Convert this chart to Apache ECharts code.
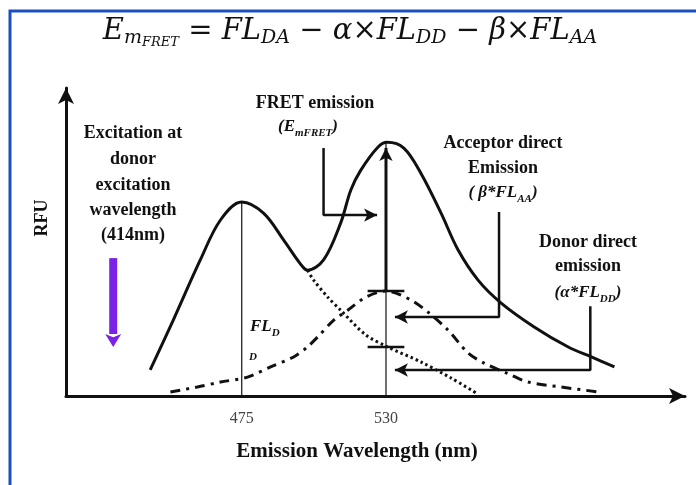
<!DOCTYPE html>
<html><head><meta charset="utf-8">
<script src="https://cdn.jsdelivr.net/npm/echarts@6/dist/echarts.min.js"></script>
<style>html,body{margin:0;padding:0;background:#fff}#c{width:696px;height:485px}</style>
</head><body><div id="c"></div>
<script>
// ---- data (wavelength nm, RFU) ----
const xRange = [408, 644];
const yRange = [0, 99.4];
const xTickValues = [475, 530];
const totalCurve = [[440.1,8.4],[448.9,24.5],[459.2,43.9],[466.9,56.8],[475,62.6],[483.3,59.0],[491,50.3],[497.5,42.5],[500.1,40.6],[506.2,43.9],[512.7,55.8],[516.6,66.5],[520.4,72.9],[526.9,80.3],[530.5,81.9],[536.8,80.0],[543.3,71.9],[551,59.0],[557.5,47.1],[565.1,37.4],[573.9,30.0],[586.5,22.3],[599.5,15.8],[608.3,12.6],[617.1,9.4]];
const donorCurve = [[500.1,40.6],[502.4,37.4],[507.8,31.9],[512.7,27.7],[522.3,19.7],[530.7,15.8],[543.3,11.0],[554.8,5.8],[564.3,1.0]];
const acceptorCurve = [[447.8,1.3],[458.1,2.9],[466.9,4.5],[477.2,6.1],[486,9.4],[494.8,12.6],[500,15.8],[503.9,19.0],[510.1,24.5],[515.4,27.7],[522.3,31.9],[530,33.9],[539.5,31.0],[546.4,26.8],[553.6,21.3],[561.3,13.9],[567.4,10.6],[576,7.4],[584.2,4.5],[596.8,2.9],[611,1.3]];
const guide475 = [[475,0],[475,62.6]];
const guide530 = [[530,0],[530,81.9]];
const tickAcceptor = [[523,33.9],[537,33.9]];
const tickDonor = [[523,15.8],[537,15.8]];
const peakArrow = [[530,33.9],[530,80.0]];
const fretArrow = [[506.2,80],[506.2,58.4],[526.6,58.4]];
const acceptorArrow = [[573.1,59.4],[573.1,25.5],[533.4,25.5]];
const donorArrow = [[607.9,29.0],[607.9,8.4],[533.4,8.4]];
const excitationShaft = [[426,44.5],[426,20]];
const excitationHead = [[426,20],[426,15.8]];

const chart = echarts.init(document.getElementById('c'));
const serif = 'Liberation Serif';
const mathFont = 'DejaVu Serif';

function plain(data, w, type, color) {
  return { type:'line', data:data, symbol:'none', smooth:false, silent:true, animation:false,
    lineStyle:{ color: color||'#111', width:w, type:type||'solid', cap:'butt' }, z:3 };
}
function arrowLine(data, w, rot, size, color) {
  const d = data.map((p,i)=> i===data.length-1 ? {value:p, symbol:'arrow', symbolSize:size, symbolRotate:rot} : {value:p, symbol:'none'});
  return { type:'line', data:d, showSymbol:true, symbol:'none', silent:true, animation:false,
    lineStyle:{ color: color||'#111', width:w }, itemStyle:{ color: color||'#111', opacity:1 }, z:5 };
}

function txt(text, x, y, size, opts) {
  opts = opts || {};
  return { type:'text', x:x, y:y, rotation: opts.rotation||0, z:10, silent:true,
    style:{ text:text, fill:opts.fill||'#111', font:(opts.style||'bold')+' '+size+'px "'+(opts.family||serif)+'"',
      textAlign:opts.align||'center', textVerticalAlign:opts.va||'middle', rich:opts.rich } };
}

const eqRich = {
  e:{ fontFamily:mathFont, fontStyle:'italic', fontSize:29, lineHeight:32, verticalAlign:'top', fill:'#111' },
  m:{ fontFamily:mathFont, fontStyle:'italic', fontSize:19, lineHeight:21, padding:[12,0,0,0], verticalAlign:'top', fill:'#111' },
  s:{ fontFamily:mathFont, fontStyle:'italic', fontSize:13, lineHeight:14, padding:[19,0,0,0], verticalAlign:'top', fill:'#111' },
  d:{ fontFamily:mathFont, fontStyle:'italic', fontSize:19, lineHeight:21, padding:[12,0,0,0], verticalAlign:'top', fill:'#111' }
};
const lblRich = {
  p:{ fontFamily:serif, fontWeight:'bold', fontStyle:'italic', fontSize:17, lineHeight:20, verticalAlign:'top', fill:'#111' },
  s:{ fontFamily:serif, fontWeight:'bold', fontStyle:'italic', fontSize:11, lineHeight:12, padding:[10,0,0,0], verticalAlign:'top', fill:'#111' }
};

chart.setOption({
  backgroundColor:'#fff',
  animation:false,
  grid:{ left:66, right:11, top:88, bottom:89 },
  xAxis:{ type:'value', min:xRange[0], max:xRange[1],
    axisLine:{ show:true, symbol:['none','arrow'], symbolSize:[12,16], lineStyle:{ color:'#111', width:3 } },
    axisTick:{ show:false }, splitLine:{ show:false },
    axisLabel:{ customValues:xTickValues, margin:15, fontFamily:serif, fontSize:16, color:'#444' } },
  yAxis:{ type:'value', min:yRange[0], max:yRange[1],
    axisLine:{ show:true, symbol:['none','arrow'], symbolSize:[12,16], lineStyle:{ color:'#111', width:3 } },
    axisTick:{ show:false }, splitLine:{ show:false }, axisLabel:{ show:false } },
  series:[
    plain(guide475, 1.2),
    plain(guide530, 1.2),
    Object.assign(plain(totalCurve, 3), { smooth:0.35 }),
    Object.assign(plain(donorCurve, 3, [2.5,3]), { smooth:0.3 }),
    Object.assign(plain(acceptorCurve, 3, [10,6,3,6]), { smooth:0.3 }),
    plain(tickAcceptor, 2.5),
    plain(tickDonor, 2.5),
    arrowLine(peakArrow, 3, 0, [10,13]),
    arrowLine(fretArrow, 2.5, -90, [10,13]),
    arrowLine(acceptorArrow, 2.5, 90, [10,13]),
    arrowLine(donorArrow, 2.5, 90, [10,13]),
    plain(excitationShaft, 8, 'solid', '#7a22e6'),
    arrowLine(excitationHead, 0, 180, [12,13], '#7a22e6')
  ],
  graphic:[
    { type:'polyline', silent:true, z:0, shape:{ points:[[10,485],[10,11],[696,11]] }, style:{ stroke:'#1a4fbf', lineWidth:3, fill:null } },
    txt('{e|E}{m|m}{s|FRET}{e| = FL}{d|DA}{e| − α×FL}{d|DD}{e| − β×FL}{d|AA}', 350, 17, 29, { style:'italic', va:'top', family:mathFont, rich:eqRich }),
    txt('RFU', 42, 218, 18, { rotation:Math.PI/2 }),
    txt('Excitation at', 133, 133, 18),
    txt('donor', 133, 159, 18),
    txt('excitation', 133, 185, 18),
    txt('wavelength', 133, 210, 18),
    txt('(414nm)', 133, 235, 18),
    txt('FRET emission', 315, 103, 18),
    txt('{p|(E}{s|mFRET}{p|)}', 308, 118, 17, { va:'top', rich:lblRich }),
    txt('Acceptor direct', 503, 143, 18),
    txt('Emission', 503, 168, 18),
    txt('{p|( β*FL}{s|AA}{p|)}', 503, 184, 17, { va:'top', rich:lblRich }),
    txt('Donor direct', 588, 242, 18),
    txt('emission', 588, 266, 18),
    txt('{p|(α*FL}{s|DD}{p|)}', 588, 284, 17, { va:'top', rich:lblRich }),
    txt('{p|FL}{s|D}', 250, 318, 18, { align:'left', va:'top', rich:lblRich }),
    txt('D', 249, 357, 11, { style:'italic bold', align:'left' }),
    txt('Emission Wavelength (nm)', 357, 452, 21)
  ]
});
</script></body></html>
